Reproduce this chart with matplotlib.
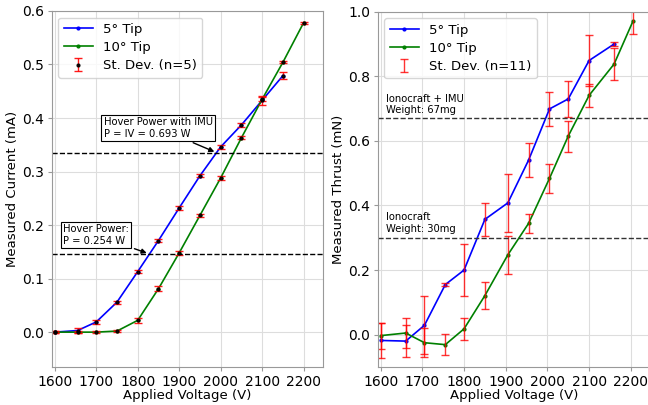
import numpy as np
import matplotlib
matplotlib.use("Agg")
from matplotlib import pyplot as plt

# left panel: measured current (mA)
v_cur_5 = [1600, 1655, 1700, 1750, 1800, 1850, 1900, 1950, 2000, 2050, 2100, 2150]
i_5 = [0.0, 0.003, 0.019, 0.056, 0.113, 0.171, 0.232, 0.292, 0.346, 0.387, 0.433, 0.479]
i_5_sd = [0.002, 0.004, 0.003, 0.003, 0.003, 0.003, 0.003, 0.003, 0.003, 0.004, 0.008, 0.006]
v_cur_10 = [1600, 1655, 1700, 1750, 1800, 1850, 1900, 1950, 2000, 2050, 2100, 2150, 2200]
i_10 = [0.0, 0.0, 0.0, 0.002, 0.022, 0.081, 0.148, 0.218, 0.288, 0.363, 0.435, 0.504, 0.578]
i_10_sd = [0.002, 0.002, 0.002, 0.002, 0.005, 0.005, 0.003, 0.003, 0.003, 0.003, 0.004, 0.002, 0.002]
hover_cur = [0.146, 0.335]

# right panel: measured thrust (mN)
v_thr_5 = [1600, 1660, 1705, 1755, 1800, 1850, 1905, 1955, 2005, 2050, 2100, 2160]
t_5 = [-0.018, -0.02, 0.029, 0.155, 0.2, 0.357, 0.408, 0.541, 0.699, 0.73, 0.849, 0.9]
t_5_sd = [0.055, 0.05, 0.09, 0.005, 0.08, 0.05, 0.09, 0.052, 0.052, 0.055, 0.08, 0.005]
v_thr_10 = [1600, 1660, 1705, 1755, 1800, 1850, 1905, 1955, 2005, 2050, 2100, 2160, 2205]
t_10 = [-0.003, 0.005, -0.025, -0.031, 0.018, 0.121, 0.247, 0.345, 0.484, 0.615, 0.741, 0.838, 0.97]
t_10_sd = [0.04, 0.045, 0.045, 0.033, 0.035, 0.043, 0.06, 0.03, 0.044, 0.048, 0.036, 0.05, 0.04]
weight_lines = [0.30, 0.67]

fig = plt.figure(figsize=(6.48, 4.05), dpi=100)
ax1 = fig.add_axes([0.080, 0.094, 0.418, 0.879])
ax2 = fig.add_axes([0.583, 0.094, 0.42, 0.877])

for ax in (ax1, ax2):
    ax.grid(True, color="#dddddd", linewidth=0.8)
    ax.set_axisbelow(True)
    for s in ax.spines.values():
        s.set_color("#999999")
    ax.tick_params(labelsize=10, color="#999999", length=3, pad=2.5)
    ax.set_xlim(1593, 2246)
    ax.set_xticks(range(1600, 2201, 100))
    ax.set_xlabel("Applied Voltage (V)", fontsize=9.5, labelpad=0)

# left
ax1.plot(v_cur_5, i_5, "b.-", lw=1.2, ms=4, label="5° Tip")
ax1.plot(v_cur_10, i_10, "g.-", lw=1.2, ms=4, label="10° Tip")
ax1.errorbar(v_cur_5, i_5, yerr=i_5_sd, fmt="k.", ms=4, ecolor="red", elinewidth=1,
             capsize=3, alpha=0.9, label="St. Dev. (n=5)")
ax1.errorbar(v_cur_10, i_10, yerr=i_10_sd, fmt="k.", ms=4, ecolor="red", elinewidth=1,
             capsize=3, alpha=0.9)
for h in hover_cur:
    ax1.axhline(h, color="black", ls="--", lw=1)
ax1.set_ylim(-0.065, 0.6)
ax1.set_ylabel("Measured Current (mA)", fontsize=9.5, labelpad=2)
box = dict(boxstyle="square,pad=0.25", fc="white", ec="black", lw=0.8)
ax1.annotate("Hover Power with IMU\nP = IV = 0.693 W", xy=(1991, hover_cur[1]),
             xytext=(1718, 0.365), fontsize=7.2, bbox=box,
             arrowprops=dict(arrowstyle="-|>", color="black", lw=1))
ax1.annotate("Hover Power:\nP = 0.254 W", xy=(1828, hover_cur[0]),
             xytext=(1620, 0.165), fontsize=7.2, bbox=box,
             arrowprops=dict(arrowstyle="-|>", color="black", lw=1))
ax1.legend(loc="upper left", fontsize=9.5, handlelength=2.2, borderpad=0.4, labelspacing=0.4)

# right
ax2.plot(v_thr_5, t_5, "b.-", lw=1.2, ms=4, label="5° Tip")
ax2.plot(v_thr_10, t_10, "g.-", lw=1.2, ms=4, label="10° Tip")
ax2.errorbar(v_thr_5, t_5, yerr=t_5_sd, fmt="none", ecolor="red", elinewidth=1,
             capsize=3, alpha=0.8, label="St. Dev. (n=11)")
ax2.errorbar(v_thr_10, t_10, yerr=t_10_sd, fmt="none", ecolor="red", elinewidth=1,
             capsize=3, alpha=0.8)
for h in weight_lines:
    ax2.axhline(h, color="#333333", ls="--", lw=1)
ax2.set_ylim(-0.1, 1.0)
ax2.set_yticks([0.0, 0.2, 0.4, 0.6, 0.8, 1.0])
ax2.set_ylabel("Measured Thrust (mN)", fontsize=9.5, labelpad=2)
ax2.text(1612, 0.318, "Ionocraft\nWeight: 30mg", fontsize=7.2)
ax2.text(1612, 0.686, "Ionocraft + IMU\nWeight: 67mg", fontsize=7.2)
ax2.legend(loc="upper left", fontsize=9.5, handlelength=2.2, borderpad=0.4, labelspacing=0.4)

fig.savefig("out.png", dpi=100)
